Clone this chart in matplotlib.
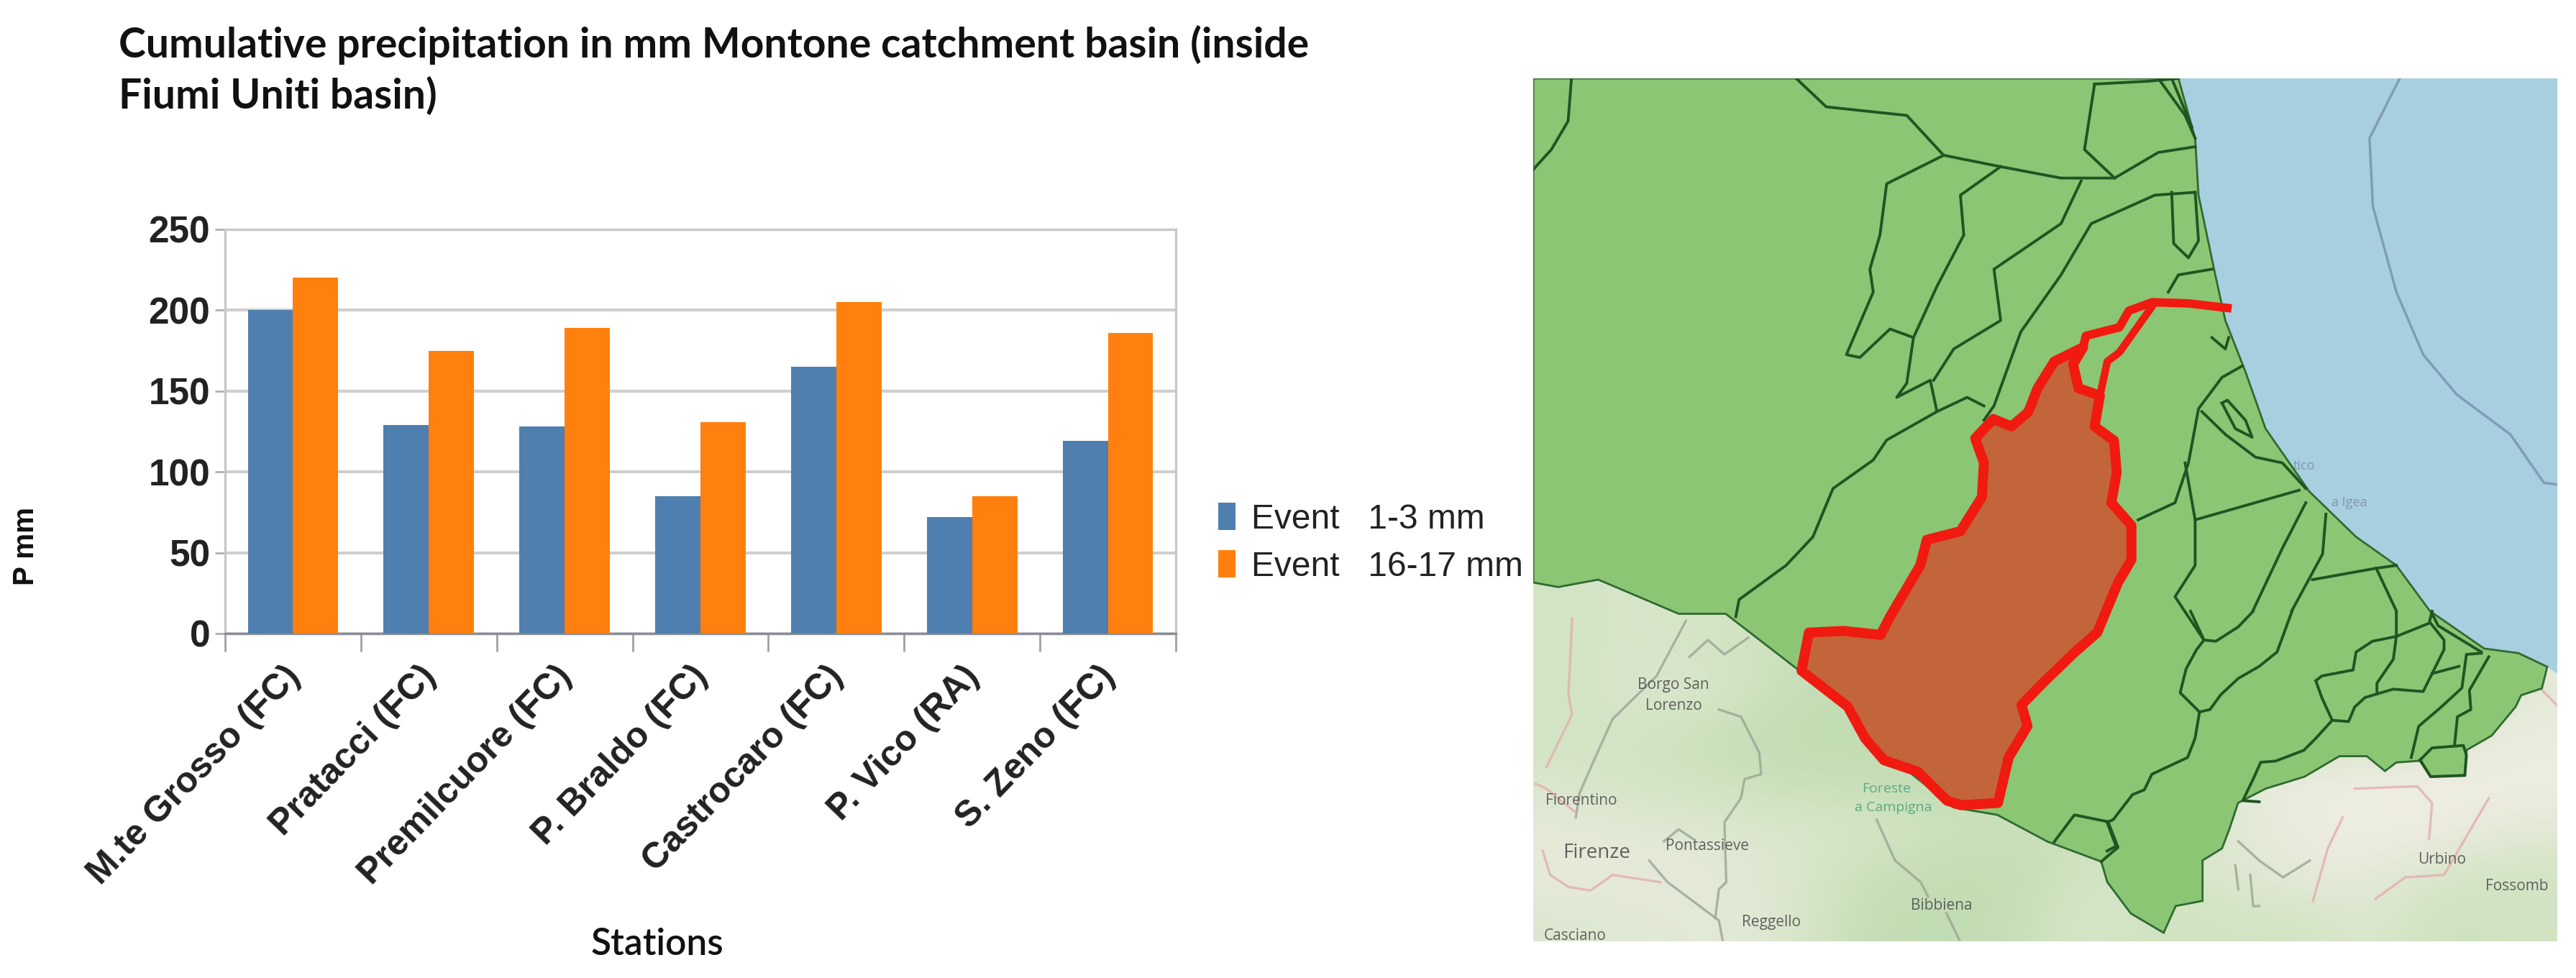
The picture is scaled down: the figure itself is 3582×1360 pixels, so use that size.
import matplotlib
matplotlib.use('Agg')
import matplotlib.pyplot as plt
from matplotlib.colors import LinearSegmentedColormap
from matplotlib.patches import Polygon

W, H = 3582, 1360
MAP_BOX = (2132, 109, 3556, 1309)  # left, top, right, bottom in figure pixels

stations = ['M.te Grosso (FC)', 'Pratacci (FC)', 'Premilcuore (FC)', 'P. Braldo (FC)',
            'Castrocaro (FC)', 'P. Vico (RA)', 'S. Zeno (FC)']
event_1_3 = [200, 129, 128, 85, 165, 72, 119]
event_16_17 = [220, 175, 189, 131, 205, 85, 186]
y_ticks = [0, 50, 100, 150, 200, 250]


def from_crop(pts, x0, y0, sx, sy):
    # crop pixels -> map pixels
    out = []
    for zx, zy in pts:
        fx, fy = x0 + zx / sx, y0 + zy / sy
        out.append((13 + (fx - MAP_BOX[0]) * 1527 / (MAP_BOX[2] - MAP_BOX[0]),
                    25 + (fy - MAP_BOX[1]) * 1515 / (MAP_BOX[3] - MAP_BOX[1])))
    return out


def se(pts):
    return from_crop(pts, 2930, 850, 2.412, 3)


def sw(pts):
    return from_crop(pts, 2130, 850, 1.96, 3)


# map outlines (x, y in map pixels)
green_area = [(13, 25), (975, 25), (1000, 130), (1005, 230), (1030, 370), (1045, 450), (1075, 540),
              (1105, 640), (1170, 750), (1240, 830), (1300, 880), (1350, 960), (1431, 1026), (1482, 1034),
              (1525, 1058), (1517, 1096), (1486, 1108), (1478, 1128), (1442, 1179), (1405, 1204), (1402, 1248),
              (1351, 1251), (1335, 1223), (1300, 1226), (1283, 1241), (1256, 1215), (1215, 1215), (1163, 1251),
              (1105, 1272), (1064, 1297), (1051, 1343), (1040, 1377), (1011, 1398), (1011, 1469), (971, 1478),
              (953, 1525), (904, 1491), (869, 1436), (860, 1400), (780, 1365), (705, 1318), (640, 1305),
              (560, 1230), (480, 1130), (410, 1065), (300, 965), (230, 965), (170, 935), (110, 905), (50, 918),
              (13, 910)]
sea = [(975, 25), (1540, 25), (1540, 1070), (1525, 1058), (1482, 1034), (1431, 1026), (1350, 960), (1300, 880),
       (1240, 830), (1170, 750), (1105, 640), (1075, 540), (1045, 450), (1030, 370), (1005, 230), (1000, 130)]
montone = [(833, 497), (790, 522), (765, 569), (751, 611), (726, 636), (699, 623), (672, 657), (685, 700),
           (682, 760), (650, 820), (600, 835), (590, 880), (545, 970), (531, 1002), (476, 995), (424, 998),
           (413, 1065), (482, 1128), (508, 1184), (536, 1222), (586, 1242), (630, 1293), (651, 1301), (706, 1297),
           (722, 1217), (750, 1162), (741, 1125), (776, 1083), (820, 1033), (854, 998), (885, 910), (905, 870),
           (905, 810), (875, 770), (883, 717), (879, 661), (850, 636), (858, 582), (826, 569), (818, 527)]
outlet_upper = [(1048, 428), (990, 420), (936, 418), (901, 433), (887, 462), (837, 477), (833, 497)]
outlet_lower = [(936, 425), (887, 506), (869, 522), (858, 582)]
basin_lines = [
    [(405, 25), (450, 75), (570, 90), (625, 160), (710, 180), (800, 200), (880, 200), (945, 155), (1000, 145)],
    [(70, 25), (65, 100), (40, 150), (13, 185)],
    [(850, 35), (835, 150), (880, 200)],
    [(850, 35), (930, 30), (975, 25)],
    [(945, 25), (985, 90), (1000, 130)],
    [(965, 25), (995, 110)],
    [(625, 160), (540, 210), (530, 300), (515, 360), (520, 400), (480, 510), (500, 515), (545, 465), (580, 480),
     (615, 390), (655, 300), (650, 230), (710, 180)],
    [(830, 205), (800, 280), (700, 360), (710, 450), (640, 500), (610, 555)],
    [(1000, 225), (940, 230), (845, 280), (800, 370), (740, 470), (700, 600), (685, 625)],
    [(580, 480), (570, 560), (555, 585), (605, 555), (615, 610), (660, 585), (685, 600)],
    [(615, 610), (540, 660), (520, 695), (460, 745), (430, 830), (390, 880), (320, 940), (315, 970)],
    [(965, 225), (968, 315), (990, 340), (1005, 310), (1000, 225)],
    [(960, 400), (975, 370), (1025, 360)],
    [(915, 800), (970, 770), (990, 700), (1005, 605), (1040, 550), (1070, 530)],
    [(1010, 610), (1045, 650), (1090, 690), (1130, 700), (1165, 745)],
    [(1040, 595), (1060, 640), (1085, 655), (1075, 625), (1048, 590), (1040, 595)],
    [(1025, 480), (1045, 500), (1050, 480)],
    [(1000, 800), (1155, 748)],
    [(985, 700), (1000, 800), (1000, 880), (970, 935), (1013, 1011)],
    [(1086, 960), (1130, 850), (1165, 770)],
    [(1144, 960), (1190, 860), (1195, 790)],
    [(1175, 905), (1270, 885), (1300, 960), (1300, 1000)],
    [(1270, 885), (1300, 880)],
    se([(280, 0), (325, 120), (300, 160), (265, 240), (245, 340), (310, 420), (295, 530), (270, 610), (150, 680),
        (125, 745), (85, 765), (20, 870), (0, 880)]),
    se([(0, 880), (30, 980), (0, 1000)]),
    se([(325, 120), (365, 125), (440, 65), (490, 0)]),
    se([(310, 420), (345, 410), (380, 350), (440, 280), (510, 230), (570, 170), (620, 0)]),
    se([(700, 290), (720, 270), (825, 245), (835, 170), (890, 125), (970, 105), (1080, 50), (1090, 0)]),
    se([(700, 290), (720, 360), (755, 455), (810, 460), (830, 400), (865, 360), (905, 345), (960, 325), (1060, 335),
        (1090, 260), (1130, 160), (1130, 120), (1085, 50)]),
    se([(970, 105), (960, 200), (905, 300), (905, 345)]),
    se([(755, 455), (700, 530), (660, 580), (565, 625), (515, 630), (490, 700), (455, 790), (510, 795)]),
    se([(1090, 260), (1180, 230)]),
    se([(1255, 175), (1205, 180), (1190, 320), (1120, 400), (1045, 480), (1020, 610)]),
    se([(1280, 190), (1215, 330), (1220, 410), (1175, 440), (1165, 560)]),
    se([(1050, 620), (1090, 570), (1195, 560), (1205, 600), (1200, 685), (1085, 690), (1050, 620)]),
    se([(1255, 170), (1110, 60), (1090, 10)]),
    [(870, 1330), (820, 1318), (790, 1365)],
    [(870, 1330), (885, 1375), (860, 1400)],
]
# rough tone of the base map, 0 pale, 1 light green, 2 green (rows from y=900, 80 apart)
land_tone = [
    [1, .8, 1, 1, 1, 1, 1, 1, 1, 1, 1, 1, 1, .4],
    [1, .8, 1, 1.2, 1.5, 1.5, 1.5, 1.5, 1, 1, 1, 1, 1, .4],
    [1, .7, .8, 1.3, 1.5, 1.5, 1.5, 1.5, 1.2, 1, 1, 1, 1, .5],
    [1, 1, 1.3, 1.5, 1.5, 1.5, 1.5, 1.2, 1, 1, 1, 1, .6, .3],
    [.8, 1, 1.1, 1.3, 1.3, 1.5, 1.4, 1, 1, .6, .2, .2, .2, .2],
    [.5, .6, .7, .8, .9, 1.1, 1.2, 1.2, 1, .6, .3, .2, .2, .5],
    [.4, .4, .5, .7, 1.2, 1.4, 1.5, 1, 1, .7, .4, .4, .9, 1],
    [.7, .6, .5, .7, 1.4, 1.5, 1.4, .8, 1.1, 1, 1, .7, 1.2, 1],
]
grey_roads = [
    sw([(420, 40), (340, 270), (220, 450), (170, 620), (130, 760), (120, 860)]),
    sw([(320, 1040), (370, 1130), (510, 1290), (520, 1370)]),
    sw([(510, 410), (570, 440), (620, 590), (625, 680), (580, 700), (570, 780), (525, 880), (530, 1130), (510, 1160),
        (500, 1280)]),
    sw([(940, 870), (990, 1040), (1060, 1130), (1080, 1190)]),
    sw([(430, 190), (480, 120), (525, 180), (590, 110)]),
    sw([(360, 960), (400, 910), (440, 950)]),
    sw([(1130, 1260), (1165, 1370)]),
    se([(440, 960), (510, 1040), (590, 1110), (680, 1040)]),
    se([(430, 1060), (440, 1160)]),
    se([(480, 1100), (490, 1230), (510, 1230)]),
]
pink_roads = [
    sw([(110, 30), (100, 350), (110, 430), (40, 650)]),
    sw([(10, 720), (40, 740), (120, 840)]),
    sw([(30, 1000), (50, 1100), (100, 1150), (160, 1165), (220, 1100), (350, 1130)]),
    se([(690, 1210), (740, 990), (790, 860)]),
    se([(900, 1200), (1000, 1110), (1130, 1100), (1280, 780)]),
    se([(830, 740), (1040, 730), (1090, 800), (1080, 950)]),
    se([(1460, 330), (1515, 400)]),
]
map_labels = [('Borgo San', 222, 1090, 15), ('Lorenzo', 222, 1127, 15), ('Firenze', 108, 1385, 20),
              ('Pontassieve', 272, 1373, 15), ('Bibbiena', 622, 1477, 15), ('Reggello', 368, 1507, 15),
              ('Urbino', 1368, 1397, 15), ('Casciano', 75, 1530, 15), ('Fiorentino', 85, 1293, 15),
              ('Fossomb', 1480, 1443, 15)]

fig = plt.figure(figsize=(W / 100, H / 100), dpi=100, facecolor='white')

ax = fig.add_axes([313 / W, 1 - 881 / H, (1635 - 313) / W, (881 - 319) / H])
x = list(range(len(stations)))
bw = 0.333
ax.bar([i - bw / 2 for i in x], event_1_3, bw, color='#4f7fae', label='Event   1-3 mm', zorder=3)
ax.bar([i + bw / 2 for i in x], event_16_17, bw, color='#ff800e', label='Event   16-17 mm', zorder=3)
ax.set_xlim(-0.5, 6.5)
ax.set_ylim(0, 250)
ax.set_yticks(y_ticks)
ax.yaxis.grid(True, color='#cfcfcf', lw=3, zorder=0)
ax.set_axisbelow(True)
for side in ['top', 'right', 'left', 'bottom']:
    ax.spines[side].set_color('#c8c8c8')
    ax.spines[side].set_linewidth(2.4)
ax.spines['bottom'].set_color('#8a8f96')
ax.tick_params(axis='y', length=10, width=2, color='#b0b0b0', labelsize=37, pad=5)
ax.set_xticks([i - 0.5 for i in x] + [6.5])
ax.set_xticklabels([])
ax.tick_params(axis='x', length=18, width=2, color='#a0a0a0')
for lab in ax.get_yticklabels():
    lab.set_fontfamily('Liberation Sans')
    lab.set_fontweight('bold')
    lab.set_color('#222222')
for i, name in zip(x, stations):
    ax.annotate(name, xy=(i, 0), xycoords=('data', 'axes fraction'), xytext=(-14, -36),
                textcoords='offset pixels', rotation=46, rotation_mode='anchor', ha='right', va='top',
                fontsize=36, fontfamily='Liberation Sans', fontweight='bold', color='#222222')
handles, labels = ax.get_legend_handles_labels()
fig.legend(handles, labels, loc='center left', bbox_to_anchor=(1694 / W, 1 - 755 / H), frameon=False,
           prop={'family': 'Liberation Sans', 'size': 34.5}, handlelength=0.5, handleheight=0.85,
           handletextpad=0.45, labelspacing=0.42, borderpad=0, borderaxespad=0, labelcolor='#222222')

fig.text(165 / W, 1 - 62 / H, 'Cumulative precipitation in mm Montone catchment basin (inside', fontsize=41,
         fontfamily='Lato', fontweight='bold', va='center', color='#111111')
fig.text(165 / W, 1 - 134 / H, 'Fiumi Uniti basin)', fontsize=41, fontfamily='Lato', fontweight='bold',
         va='center', color='#111111')
fig.text(914 / W, 1 - 1314 / H, 'Stations', fontsize=37, fontfamily='Lato', fontweight='semibold', ha='center',
         va='center', color='#111111')
fig.text(36 / W, 1 - 760 / H, 'P mm', fontsize=29, fontfamily='Liberation Sans', fontweight='bold', rotation=90,
         ha='center', va='center', color='#111111')

left, top, right, bottom = MAP_BOX
mp = fig.add_axes([left / W, 1 - bottom / H, (right - left) / W, (bottom - top) / H])
land_cmap = LinearSegmentedColormap.from_list('land', ['#f6efea', '#d2e4c4', '#b0d3a0'])
mp.imshow(land_tone, cmap=land_cmap, vmin=0, vmax=2, interpolation='bicubic', extent=(13, 1540, 1540, 900),
          aspect='auto', zorder=0)
mp.set_xlim(13, 1540)
mp.set_ylim(1540, 25)
mp.axis('off')
for road in grey_roads:
    mp.plot(*zip(*road), color='#9aa596', lw=2.4, alpha=0.8, zorder=2)
for road in pink_roads:
    mp.plot(*zip(*road), color='#e3aeb0', lw=2.4, alpha=0.8, zorder=2)
mp.add_patch(Polygon(sea, fc='#a8cfe0', ec='none', zorder=1))
shipping = [(1305, 25), (1260, 130), (1265, 250), (1300, 400), (1340, 510), (1390, 580), (1470, 650), (1520, 735),
            (1540, 738)]
mp.plot(*zip(*shipping), color='#7f9cb8', lw=2.5, zorder=2)
for label, lx, ly, size in map_labels:
    mp.text(lx, ly, label, fontsize=size, ha='center', va='center', color='#4a4a4a', fontfamily='Open Sans',
            alpha=0.85, zorder=3)
mp.text(540, 1272, 'Foreste', fontsize=14, ha='center', va='center', color='#5fa884', fontfamily='Open Sans', zorder=3)
mp.text(550, 1305, 'a Campigna', fontsize=14, ha='center', va='center', color='#5fa884', fontfamily='Open Sans',
        zorder=3)
mp.text(1162, 705, 'tico', fontsize=13, ha='center', va='center', color='#7e97a8', fontfamily='Open Sans', zorder=3)
mp.text(1230, 770, 'a Igea', fontsize=13, ha='center', va='center', color='#7e97a8', fontfamily='Open Sans', zorder=3)
mp.add_patch(Polygon(green_area, fc='#8bc674', ec='#2f6a30', lw=2, zorder=4))
for line in basin_lines:
    mp.plot(*zip(*line), color='#1f5522', lw=2.8, solid_joinstyle='round', zorder=5)
mp.add_patch(Polygon(montone, fc='#c2653a', ec='#f01a10', lw=10, joinstyle='round', zorder=6))
mp.plot(*zip(*outlet_upper), color='#f01a10', lw=8.5, solid_joinstyle='round', zorder=7)
mp.plot(*zip(*outlet_lower), color='#f01a10', lw=7.5, solid_joinstyle='round', zorder=7)

fig.savefig('out.png', dpi=100)
